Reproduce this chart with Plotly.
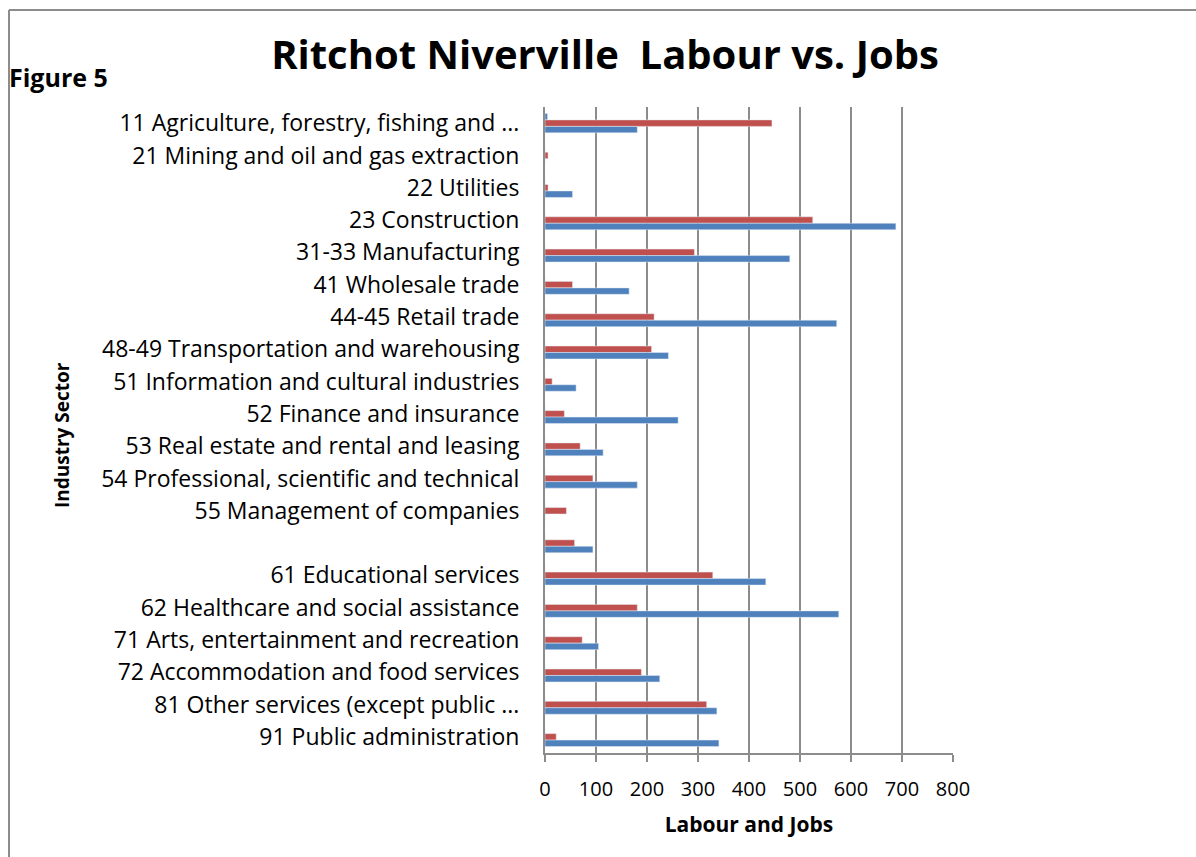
import plotly.graph_objects as go

# Industry sectors, top to bottom (one sector has no label)
sectors = [
    "11 Agriculture, forestry, fishing and ...",
    "21 Mining and oil and gas extraction",
    "22 Utilities",
    "23 Construction",
    "31-33 Manufacturing",
    "41 Wholesale trade",
    "44-45 Retail trade",
    "48-49 Transportation and warehousing",
    "51 Information and cultural industries",
    "52 Finance and insurance",
    "53 Real estate and rental and leasing",
    "54 Professional, scientific and technical",
    "55 Management of companies",
    " ",
    "61 Educational services",
    "62 Healthcare and social assistance",
    "71 Arts, entertainment and recreation",
    "72 Accommodation and food services",
    "81 Other services (except public ...",
    "91 Public administration",
]

# Series values per sector
other_series = [5, 0, 0, 0, 0, 0, 0, 0, 0, 0, 0, 0, 0, 0, 0, 0, 0, 0, 0, 0]
labour = [445, 6, 6, 525, 293, 54, 214, 209, 14, 38, 69, 94, 42, 58, 329, 181, 73, 189, 317, 22]
jobs = [181, 0, 54, 688, 480, 165, 572, 242, 61, 261, 114, 181, 0, 94, 433, 576, 105, 225, 337, 341]

x_ticks = [0, 100, 200, 300, 400, 500, 600, 700, 800]

BLUE = "#4F81BD"
RED = "#C0504D"
GRID = "#8C8C8C"
FONT = "Open Sans"

W, H = 1196, 857
L, R, T, B = 545, 243, 107, 104
PW, PH = W - L - R, H - T - B


def px_to_paper(px, py):
    return (px - L) / PW, (H - B - py) / PH


fig = go.Figure()
fig.add_trace(go.Bar(y=sectors, x=other_series, orientation="h", marker_color=BLUE,
                     showlegend=False, hoverinfo="x+y"))
fig.add_trace(go.Bar(y=sectors, x=labour, orientation="h", marker_color=RED,
                     name="Labour", showlegend=False))
fig.add_trace(go.Bar(y=sectors, x=jobs, orientation="h", marker_color=BLUE,
                     name="Jobs", showlegend=False))

# Outer frame (top and left edges)
x0, y0 = px_to_paper(9, 857)
x1, y1 = px_to_paper(9, 10)
x2, _ = px_to_paper(1196, 10)
fig.add_shape(type="line", xref="paper", yref="paper", x0=x0, y0=y0, x1=x1, y1=y1,
              line=dict(color=GRID, width=2))
fig.add_shape(type="line", xref="paper", yref="paper", x0=x1, y0=y1, x1=x2, y1=y1,
              line=dict(color=GRID, width=2))

fx, fy = px_to_paper(7, 77)
fig.add_annotation(text="<b>Figure 5</b>", xref="paper", yref="paper", x=fx, y=fy,
                   xanchor="left", yanchor="middle", showarrow=False,
                   font=dict(family=FONT, size=25, color="black"))

ix, iy = px_to_paper(62, 435)
fig.add_annotation(text="<b>Industry Sector</b>", xref="paper", yref="paper", x=ix, y=iy,
                   textangle=-90, xanchor="center", yanchor="middle", showarrow=False,
                   font=dict(family=FONT, size=19, color="black"))

fig.update_layout(
    width=W, height=H,
    margin=dict(l=L, r=R, t=T, b=B, pad=0),
    paper_bgcolor="white", plot_bgcolor="white",
    barmode="group", bargap=0.4, bargroupgap=0,
    title=dict(text="<b>Ritchot Niverville  Labour vs. Jobs</b>",
               x=605 / W, xanchor="center", y=1 - 55 / H, yanchor="middle",
               font=dict(family=FONT, size=40, color="black")),
    font=dict(family=FONT, color="black"),
    xaxis=dict(range=[0, 800], tickvals=x_ticks, ticktext=[str(v) for v in x_ticks],
               showgrid=True, gridcolor=GRID, gridwidth=2, zeroline=False,
               showline=True, linecolor=GRID, linewidth=2,
               ticks="outside", ticklen=7, tickcolor=GRID, tickwidth=2,
               ticklabelstandoff=10,
               tickfont=dict(family=FONT, size=20, color="black"),
               title=dict(text="<b>Labour and Jobs</b>", standoff=16,
                          font=dict(family=FONT, size=21, color="black"))),
    yaxis=dict(type="category", autorange="reversed", showgrid=False,
               showline=True, linecolor=GRID, linewidth=2, ticks="",
               ticklabelstandoff=19,
               tickfont=dict(family=FONT, size=23, color="black")),
)

fig.write_html("out.html")
